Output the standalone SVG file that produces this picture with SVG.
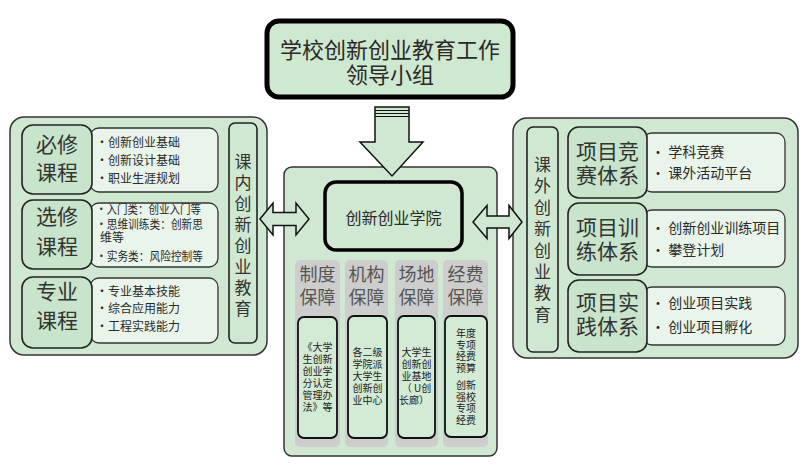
<svg xmlns="http://www.w3.org/2000/svg" width="811" height="473" viewBox="0 0 811 473">
<style>
text{font-family:"Noto Sans CJK SC","Noto Sans",sans-serif;fill:#2a2a2a;}
.panel{fill:#d0e8d1;stroke:#333;stroke-width:1.5;}
.head{fill:#c8e4ca;stroke:#222;stroke-width:1.6;}
.cont{fill:#e9f4ea;stroke:#333;stroke-width:1.3;}
.vbox{fill:#d0e8d1;stroke:#222;stroke-width:1.6;}
.gray{fill:#cdcdcd;}
.inner{fill:#d3ead4;stroke:#111;stroke-width:1.8;}
.arrow{fill:#d0e8d1;stroke:#111;stroke-width:1.5;stroke-linejoin:miter;}
.ht{font-size:21px;text-anchor:middle;fill:#333;}
.ct{font-size:12px;}
.rt{font-size:14px;}
.vt{font-size:17px;text-anchor:middle;fill:#333;}
.gt{font-size:18px;text-anchor:middle;fill:#555;}
.st{font-size:10px;text-anchor:middle;fill:#222;}
</style>

<g id="left-panel">
<rect class="panel" x="10" y="117" width="257" height="238" rx="14"/>
</g>
<g id="center-panel">
<rect class="panel" x="284" y="167" width="213" height="289" rx="8"/>
</g>
<g id="right-panel">
<rect class="panel" x="513" y="118" width="285" height="240" rx="14"/>
</g>

<g id="title">
<rect x="267" y="21" width="246" height="76" rx="12" fill="#cfe8d0" stroke="#000" stroke-width="5"/>
<text x="390" y="58" font-size="22" text-anchor="middle" fill="#333"><tspan x="390" y="58">学校创新创业教育工作</tspan><tspan x="390" y="83">领导小组</tspan></text>
</g>

<g id="required">
<rect class="cont" x="90" y="128" width="128" height="64" rx="9"/>
<rect class="head" x="22" y="125" width="70" height="69" rx="11"/>
<text class="ht"><tspan x="57" y="152">必修</tspan><tspan x="57" y="180">课程</tspan></text>
<text class="ct"><tspan x="96" y="147">•创新创业基础</tspan><tspan x="96" y="165">•创新设计基础</tspan><tspan x="96" y="183">•职业生涯规划</tspan></text>
</g>

<g id="elective">
<rect class="cont" x="90" y="203" width="128" height="64" rx="9"/>
<rect class="head" x="22" y="200" width="70" height="69" rx="11"/>
<text class="ht"><tspan x="57" y="224">选修</tspan><tspan x="57" y="254">课程</tspan></text>
<text class="ct"><tspan x="96" y="214" textLength="105" lengthAdjust="spacingAndGlyphs">•入门类：创业入门等</tspan><tspan x="96" y="229" textLength="107" lengthAdjust="spacingAndGlyphs">•思维训练类：创新思</tspan><tspan x="100" y="242">维等</tspan><tspan x="96" y="261" textLength="107" lengthAdjust="spacingAndGlyphs">•实务类：风险控制等</tspan></text>
</g>

<g id="major">
<rect class="cont" x="90" y="278" width="128" height="65" rx="9"/>
<rect class="head" x="22" y="277" width="70" height="71" rx="11"/>
<text class="ht"><tspan x="57" y="299">专业</tspan><tspan x="57" y="328">课程</tspan></text>
<text class="ct"><tspan x="96" y="296">•专业基本技能</tspan><tspan x="96" y="313">•综合应用能力</tspan><tspan x="96" y="331">•工程实践能力</tspan></text>
</g>

<g id="in-class">
<rect class="vbox" x="229" y="123" width="28" height="220" rx="6"/>
<text class="vt"><tspan x="243" y="168">课</tspan><tspan x="243" y="189">内</tspan><tspan x="243" y="210">创</tspan><tspan x="243" y="231">新</tspan><tspan x="243" y="252">创</tspan><tspan x="243" y="273">业</tspan><tspan x="243" y="294">教</tspan><tspan x="243" y="315">育</tspan></text>
</g>

<g id="college">
<rect x="325" y="182" width="137" height="68" rx="11" fill="#d0e8d1" stroke="#000" stroke-width="3.5"/>
<text x="393.5" y="224" font-size="16" text-anchor="middle" fill="#333">创新创业学院</text>
</g>

<g id="system">
<rect class="gray" x="295" y="260" width="45" height="187" rx="5"/>
<text class="gt"><tspan x="317.5" y="281">制度</tspan><tspan x="317.5" y="304">保障</tspan></text>
<rect class="inner" x="298" y="317" width="39" height="121" rx="6"/>
<text class="st"><tspan x="317.5" y="351">《大学</tspan><tspan x="317.5" y="363">生创新</tspan><tspan x="317.5" y="375">创业学</tspan><tspan x="317.5" y="387">分认定</tspan><tspan x="317.5" y="399">管理办</tspan><tspan x="317.5" y="411">法》等</tspan></text>
</g>

<g id="organization">
<rect class="gray" x="345" y="260" width="43" height="187" rx="5"/>
<text class="gt"><tspan x="366.5" y="281">机构</tspan><tspan x="366.5" y="304">保障</tspan></text>
<rect class="inner" x="348" y="316" width="39" height="122" rx="6"/>
<text class="st"><tspan x="367.5" y="356">各二级</tspan><tspan x="367.5" y="368">学院派</tspan><tspan x="367.5" y="380">大学生</tspan><tspan x="367.5" y="392">创新创</tspan><tspan x="367.5" y="404">业中心</tspan></text>
</g>

<g id="venue">
<rect class="gray" x="395" y="260" width="43" height="187" rx="5"/>
<text class="gt"><tspan x="416.5" y="281">场地</tspan><tspan x="416.5" y="304">保障</tspan></text>
<rect class="inner" x="398" y="316" width="37" height="122" rx="6"/>
<text class="st"><tspan x="416.5" y="356">大学生</tspan><tspan x="416.5" y="368">创新创</tspan><tspan x="416.5" y="380">业基地</tspan><tspan x="416.5" y="392">（ U创</tspan><tspan x="414" y="404">长廊）</tspan></text>
</g>

<g id="funding">
<rect class="gray" x="443" y="260" width="45" height="187" rx="5"/>
<text class="gt"><tspan x="465.5" y="281">经费</tspan><tspan x="465.5" y="304">保障</tspan></text>
<rect class="inner" x="445" y="316" width="42" height="121" rx="6"/>
<text class="st"><tspan x="466" y="337">年度</tspan><tspan x="466" y="348.5">专项</tspan><tspan x="466" y="360">经费</tspan><tspan x="466" y="371.5">预算</tspan><tspan x="466" y="389">创新</tspan><tspan x="466" y="400.5">强校</tspan><tspan x="466" y="412">专项</tspan><tspan x="466" y="423.5">经费</tspan></text>
</g>

<g id="out-class">
<rect class="vbox" x="527" y="127" width="31" height="225" rx="6"/>
<text class="vt"><tspan x="542.5" y="171">课</tspan><tspan x="542.5" y="192">外</tspan><tspan x="542.5" y="214">创</tspan><tspan x="542.5" y="235">新</tspan><tspan x="542.5" y="257">创</tspan><tspan x="542.5" y="278">业</tspan><tspan x="542.5" y="299">教</tspan><tspan x="542.5" y="321">育</tspan></text>
</g>

<g id="competition">
<rect class="cont" x="643" y="133" width="142" height="59" rx="9"/>
<rect class="head" x="568" y="127" width="79" height="71" rx="11"/>
<text class="ht" font-size="20"><tspan x="607.5" y="159">项目竞</tspan><tspan x="607.5" y="183">赛体系</tspan></text>
<text class="rt"><tspan x="651" y="157">• 学科竞赛</tspan><tspan x="651" y="178">• 课外活动平台</tspan></text>
</g>

<g id="training">
<rect class="cont" x="643" y="210" width="142" height="57" rx="9"/>
<rect class="head" x="568" y="203" width="79" height="72" rx="11"/>
<text class="ht" font-size="20"><tspan x="607.5" y="235">项目训</tspan><tspan x="607.5" y="259">练体系</tspan></text>
<text class="rt"><tspan x="651" y="233">• 创新创业训练项目</tspan><tspan x="651" y="255">• 攀登计划</tspan></text>
</g>

<g id="practice">
<rect class="cont" x="643" y="287" width="142" height="58" rx="9"/>
<rect class="head" x="568" y="280" width="79" height="72" rx="11"/>
<text class="ht" font-size="20"><tspan x="607.5" y="310">项目实</tspan><tspan x="607.5" y="334">践体系</tspan></text>
<text class="rt"><tspan x="651" y="308">• 创业项目实践</tspan><tspan x="651" y="332">• 创业项目孵化</tspan></text>
</g>

<g id="connectors">
<path class="arrow" d="M375,107 H409 V142 H423 L392,176 L360,142 H375 Z"/>
<path d="M375,110.5 H409 M375,113.5 H409 M375,116.5 H409" stroke="#111" stroke-width="1.2" fill="none"/>
<polygon class="arrow" points="260,219 273,203 273,212.5 296,212.5 296,203 309,219 296,235 296,225.5 273,225.5 273,235"/>
<polygon class="arrow" points="473,222 487,205.5 487,216 509,216 509,205.5 522,222 509,238.5 509,228 487,228 487,238.5"/>
</g>
</svg>
